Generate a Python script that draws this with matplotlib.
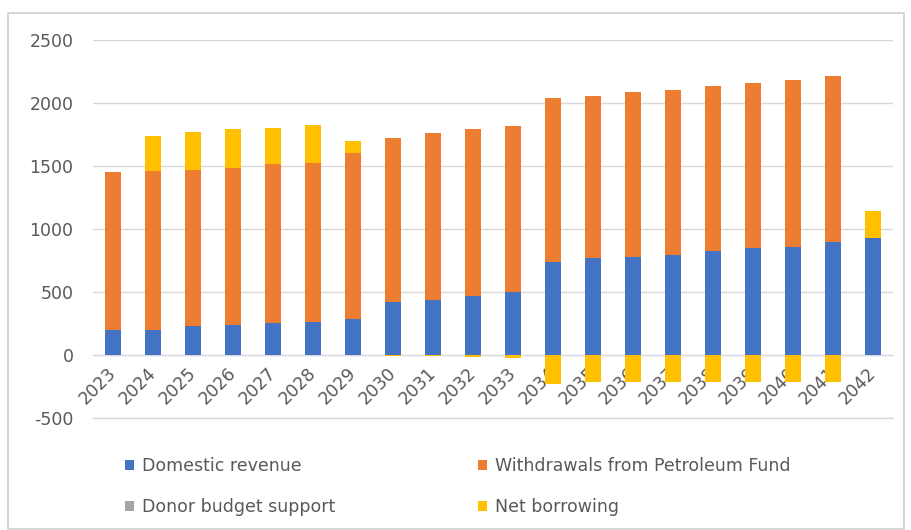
import numpy as np
import matplotlib
matplotlib.use("Agg")
import matplotlib.pyplot as plt
from matplotlib.patches import Rectangle, Patch

years = [str(y) for y in range(2023, 2043)]
domestic_revenue = [198, 200, 230, 238, 256, 264, 283, 423, 437, 468, 502,
                    741, 767, 775, 794, 828, 847, 860, 899, 926]
petroleum_fund = [1257, 1260, 1238, 1249, 1260, 1257, 1323, 1297, 1323, 1323, 1315,
                  1301, 1291, 1310, 1309, 1307, 1309, 1323, 1315, 0]
donor_support = [0] * 20
net_borrowing = [0, 278, 304, 304, 288, 304, 95, -5, -10, -15, -20,
                 -230, -215, -215, -215, -215, -215, -215, -215, 219]

series = [
    ("Domestic revenue", domestic_revenue, "#4472C4"),
    ("Withdrawals from Petroleum Fund", petroleum_fund, "#ED7D31"),
    ("Donor budget support", donor_support, "#A5A5A5"),
    ("Net borrowing", net_borrowing, "#FFC000"),
]

plt.rcParams['font.family'] = ['DejaVu Sans']
plt.rcParams['axes.unicode_minus'] = False
text_col = "#595959"

fig = plt.figure(figsize=(9.11, 5.30), dpi=100)
ax = fig.add_axes([93/911, (530-418)/530, 800/911, 378/530])

x = np.arange(len(years))
pos_base = np.zeros(len(years))
neg_base = np.zeros(len(years))
for name, vals, col in series:
    v = np.array(vals, dtype=float)
    bottom = np.where(v >= 0, pos_base, neg_base)
    ax.bar(x, v, width=0.4, bottom=bottom, color=col, zorder=2, label=name)
    pos_base = pos_base + np.where(v > 0, v, 0)
    neg_base = neg_base + np.where(v < 0, v, 0)

ax.set_xlim(-0.5, len(years) - 0.5)
ax.set_ylim(-500, 2500)
ax.set_yticks(range(-500, 2501, 500))
ax.yaxis.grid(True, color="#D9D9D9", linewidth=1.0, zorder=0)
ax.set_axisbelow(True)
for s in ["top", "right", "left"]:
    ax.spines[s].set_visible(False)
ax.spines["bottom"].set_position(("data", 0))
ax.spines["bottom"].set_color("#D9D9D9")
ax.spines["bottom"].set_zorder(1)
ax.axhline(-500, color="#D9D9D9", linewidth=1.0, zorder=0, clip_on=False)
ax.tick_params(axis="y", length=0, pad=14, labelsize=12.5, labelcolor=text_col)
ax.tick_params(axis="x", length=0, pad=11, labelsize=12.5, labelcolor=text_col)
ax.set_xticks(x)
ax.set_xticklabels(years, rotation=45, ha="right", va="center", rotation_mode="anchor")
for lbl in ax.get_xticklabels():
    lbl.set_zorder(5)

handles = [Patch(facecolor=c, edgecolor="none") for _, _, c in series]
labels = [n for n, _, _ in series]
order = [0, 2, 1, 3]
leg = fig.legend([handles[i] for i in order], [labels[i] for i in order],
                 ncol=2, loc="upper left",
                 bbox_to_anchor=(118/911, 1 - 450/530), frameon=False,
                 fontsize=12.5, handlelength=0.5, handleheight=0.5,
                 handletextpad=0.5, columnspacing=8.2, labelspacing=1.35,
                 borderaxespad=0)
for t in leg.get_texts():
    t.set_color(text_col)

fig.patches.append(Rectangle((8/911, 1/530), 896/911, 516/530, transform=fig.transFigure,
                             fill=False, edgecolor="#D0D0D0", linewidth=1.2))

fig.savefig("out.png", dpi=100)
